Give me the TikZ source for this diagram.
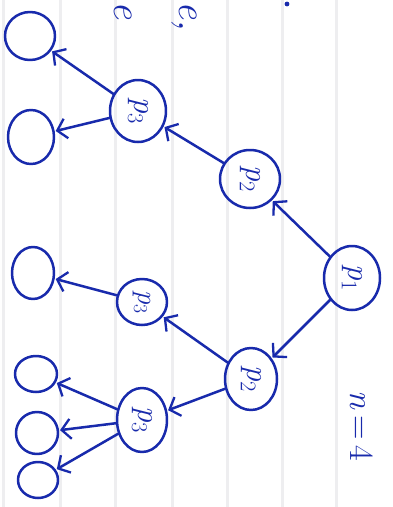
\documentclass[tikz,border=0pt]{standalone}
\usetikzlibrary{shapes.geometric,arrows.meta}
\definecolor{ink}{RGB}{24,42,172}
\definecolor{rule}{RGB}{238,238,240}
\newcommand{\proc}[1]{\textit{p}\textsubscript{#1}}
\begin{document}
\begin{tikzpicture}[x=1pt,y=-1pt,
  ink line/.style={draw=ink,line width=2.5pt,line cap=round,line join=round},
  bubble/.style={ellipse,ink line,inner sep=0pt},
  plabel/.style={rotate=-90,text=ink,font=\fontsize{32}{32}\selectfont},
  edge arrow/.style={ink line,-{Straight Barb[length=9pt,width=20pt,line width=2.3pt]},shorten >=1pt}
]
\useasboundingbox (0,0) rectangle (392,507);
\fill[white] (0,0) rectangle (392,507);
% ruled paper lines
\foreach \x in {3,60,115,172,227,282,336}
  \draw[rule,line width=3pt] (\x,0) -- (\x,507);

% handwriting along the top edge
\node[plabel,font=\itshape\fontsize{40}{40}\selectfont] (fragA) at (123,10) {e};
\node[plabel,font=\itshape\fontsize{40}{40}\selectfont] (fragB) at (184,16) {e,};
\fill[ink] (287,4) circle (2.4pt);

% tree nodes
\node[bubble,minimum width=56pt,minimum height=64pt,label={[plabel]center:\proc{1}}] (p1) at (352,278) {};
\node[bubble,minimum width=60pt,minimum height=58pt,label={[plabel]center:\proc{2}}] (p2a) at (250,179) {};
\node[bubble,minimum width=52pt,minimum height=62pt,label={[plabel]center:\proc{2}}] (p2b) at (251,379) {};
\node[bubble,minimum width=56pt,minimum height=62pt,label={[plabel]center:\proc{3}}] (p3a) at (138,111) {};
\node[bubble,minimum width=50pt,minimum height=46pt,label={[plabel,font=\fontsize{28}{28}\selectfont]center:\proc{3}}] (p3b) at (142,302) {};
\node[bubble,minimum width=50pt,minimum height=64pt,label={[plabel]center:\proc{3}}] (p3c) at (142,420) {};

% leaves
\node[bubble,minimum width=50pt,minimum height=48pt] (l1) at (30,36) {};
\node[bubble,minimum width=46pt,minimum height=54pt] (l2) at (31,137) {};
\node[bubble,minimum width=42pt,minimum height=52pt] (l3) at (33,273) {};
\node[bubble,minimum width=42pt,minimum height=36pt] (l4) at (36,374) {};
\node[bubble,minimum width=42pt,minimum height=42pt] (l5) at (37,433) {};
\node[bubble,minimum width=40pt,minimum height=36pt] (l6) at (38,480) {};

% arrows
\draw[edge arrow] (p1) -- (p2a);
\draw[edge arrow] (p1) -- (p2b);
\draw[edge arrow] (p2a) -- (p3a);
\draw[edge arrow] (p3a) -- (l1);
\draw[edge arrow] (p3a) -- (l2);
\draw[edge arrow] (p2b) -- (p3b);
\draw[edge arrow] (p2b) -- (p3c);
\draw[edge arrow] (p3b) -- (l3);
\draw[edge arrow] (p3c) -- (l4);
\draw[edge arrow] (p3c) -- (l5);
\draw[edge arrow] (p3c) -- (l6);

% problem size
\node[plabel,font=\fontsize{34}{34}\selectfont] (size) at (362,426) {\textit{n}\,=\,4};
\end{tikzpicture}
\end{document}
